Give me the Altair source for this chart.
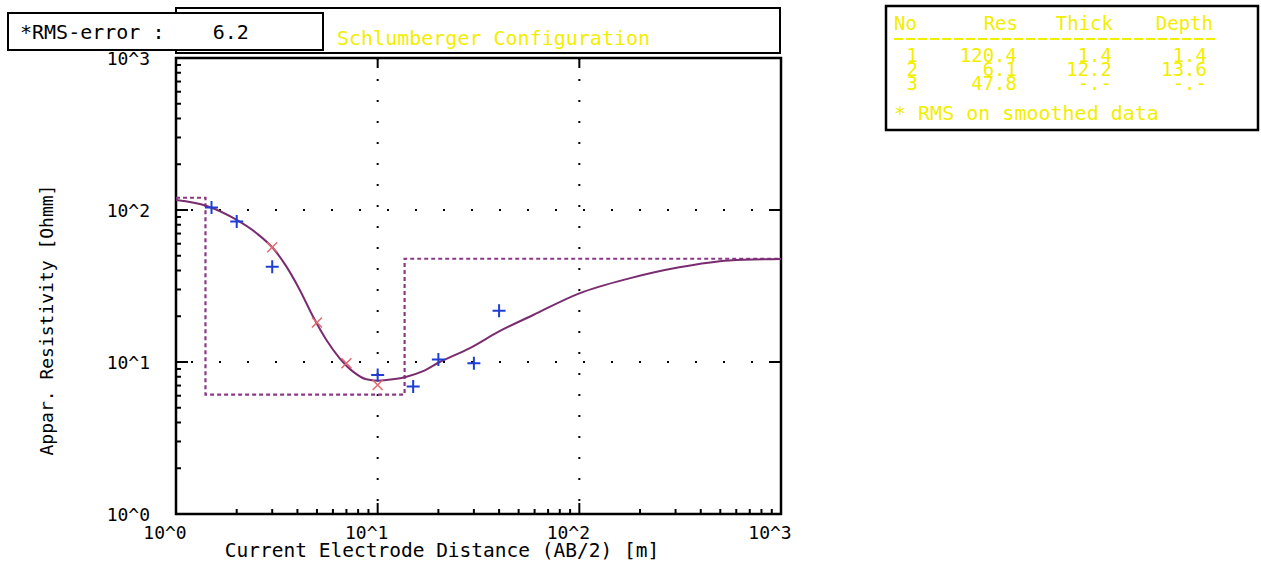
import altair as alt
import pandas as pd

# ---- sounding data (AB/2 in m, apparent resistivity in Ohm.m) ----
meas_ab2 = [1.5, 2.0, 3.0, 10.0, 15.0, 20.0, 30.0, 40.0]
meas_rho = [104.0, 84.0, 42.4, 8.2, 6.9, 10.4, 9.8, 21.7]

smooth_ab2 = [3.0, 5.0, 7.0, 10.0]
smooth_rho = [56.8, 18.2, 9.8, 7.06]

# model response curve
curve_ab2 = [1.0, 1.42, 2.0, 2.51, 3.03, 3.53, 4.11, 4.78, 5.57, 6.48, 7.55, 8.79,
             10.0, 11.9, 13.9, 16.8, 20.3, 28.5, 40.0, 58.7, 100.0, 177.0, 313.0,
             553.0, 1000.0]
curve_rho = [116.4, 106.3, 86.0, 70.3, 56.0, 42.4, 29.8, 19.9, 13.95, 10.58, 8.64, 7.69,
             7.53, 7.69, 8.0, 8.7, 10.0, 12.3, 15.9, 20.3, 28.3, 35.5, 42.0,
             46.6, 47.6]

# layered earth model
layer_no = [1, 2, 3]
layer_res = [120.4, 6.1, 47.8]
layer_thick = [1.4, 12.2, None]
layer_depth = [1.4, 13.6, None]
rms_error = 6.2

decades = [1, 10, 100, 1000]
decade_labels = ["10^0", "10^1", "10^2", "10^3"]
inner_decades = [10, 100]
minor_ticks = [m * 10 ** e for e in range(3) for m in range(2, 10)]

FONT = "DejaVu Sans Mono"
YELLOW = "#f2ee00"
CURVE = "#7a2c70"
MODEL = "#8a3a84"
BLUE = "#1e3ed6"
RED = "#e46a6e"
NB = "\u00a0"
W, H = 605, 456
X_MIN, X_MAX = 1, 1000

xs = alt.Scale(type="log", domain=[X_MIN, X_MAX])
ys = alt.Scale(type="log", domain=[1, 1000])

curve_df = pd.DataFrame({"ab2": curve_ab2, "rho": curve_rho})
meas_df = pd.DataFrame({"ab2": meas_ab2, "rho": meas_rho})
smooth_df = pd.DataFrame({"ab2": smooth_ab2, "rho": smooth_rho})
tick_df = pd.DataFrame({"v": decades, "lab": decade_labels})

# step outline of the layered model
step_pts = []
top = X_MIN
for res, depth in zip(layer_res, layer_depth):
    bottom = depth if depth is not None else X_MAX
    step_pts += [(top, res), (bottom, res)]
    top = bottom
model_df = pd.DataFrame({"i": range(len(step_pts)),
                         "ab2": [p[0] for p in step_pts],
                         "rho": [p[1] for p in step_pts]})

one = pd.DataFrame({"k": [0]})


def fmt(v):
    return "-.-" if v is None else f"{v:.1f}"


def X(field="ab2"):
    return alt.X(f"{field}:Q", scale=xs, axis=None)


def Y(field="rho"):
    return alt.Y(f"{field}:Q", scale=ys, axis=None)


# dotted grid
vgrid = alt.Chart(pd.DataFrame({"ab2": inner_decades})).mark_rule(
    color="black", strokeWidth=2, strokeDash=[2, 19]
).encode(x=X())
hgrid = alt.Chart(pd.DataFrame({"rho": inner_decades})).mark_rule(
    color="black", strokeWidth=2, strokeDash=[2, 26]
).encode(y=Y())

model = alt.Chart(model_df).mark_line(
    color=MODEL, strokeWidth=2.2, strokeDash=[4, 3]
).encode(x=X(), y=Y(), order="i:Q")

curve = alt.Chart(curve_df).mark_line(
    color=CURVE, strokeWidth=2, interpolate="monotone"
).encode(x=X(), y=Y())

smooth = alt.Chart(smooth_df).mark_point(
    shape="M-1,-1L1,1M-1,1L1,-1", size=100, filled=False,
    color=RED, strokeWidth=1.5, opacity=1
).encode(x=X(), y=Y())

meas = alt.Chart(meas_df).mark_point(
    shape="M-1,0H1M0,-1V1", size=169, filled=False,
    color=BLUE, strokeWidth=2, opacity=1
).encode(x=X(), y=Y())


# tick marks drawn inside the frame
def yticks(values, x0, x1):
    return alt.Chart(pd.DataFrame({"rho": values})).mark_rule(
        color="black", strokeWidth=2
    ).encode(y=Y(), x=alt.value(x0), x2=alt.value(x1))


def xticks(values, y0, y1):
    return alt.Chart(pd.DataFrame({"ab2": values})).mark_rule(
        color="black", strokeWidth=2
    ).encode(x=X(), y=alt.value(y0), y2=alt.value(y1))


ticks = [
    yticks(decades, 0, 12), yticks(minor_ticks, 0, 5),
    xticks(decades, H, H - 11), xticks(minor_ticks, H, H - 5),
    xticks(inner_decades, 0, 10), yticks(inner_decades, W, W - 12),
]

# decade labels on both axes
ylabels = alt.Chart(tick_df).mark_text(
    font=FONT, fontSize=18, color="black", align="right", baseline="middle", dy=2
).encode(y=Y("v"), x=alt.value(-26), text="lab:N")
xlabels = alt.Chart(tick_df).mark_text(
    font=FONT, fontSize=18, color="black", align="center", baseline="middle", dx=-11
).encode(x=X("v"), y=alt.value(H + 20), text="lab:N")


def box(x0, x1, y0, y1, sw=2):
    return alt.Chart(one).mark_rect(
        fill="white", stroke="black", strokeWidth=sw
    ).encode(x=alt.value(x0), x2=alt.value(x1), y=alt.value(y0), y2=alt.value(y1))


def label(text, x, y, color="black", align="left", baseline="middle",
          size=20, angle=0):
    return alt.Chart(one).mark_text(
        text=text, font=FONT, fontSize=size, color=color, align=align,
        baseline=baseline, angle=angle
    ).encode(x=alt.value(x), y=alt.value(y))


def column(lines, x, y, align="right"):
    return alt.Chart(pd.DataFrame({"t": ["\n".join(lines)]})).mark_text(
        font=FONT, fontSize=19, color=YELLOW, align=align, baseline="top",
        lineBreak="\n", lineHeight=14
    ).encode(x=alt.value(x), y=alt.value(y), text="t:N")


rms_text = "*RMS-error :" + NB * 4 + f"{rms_error:.1f}"

annot = [
    box(0, 604, -50, -5),
    label("Schlumberger Configuration", 161, -19, color=YELLOW),
    box(-168, 147, -45, -8),
    label(rms_text, -156, -25),
    box(710, 1082, -52, 72, sw=2.5),
    label("No", 718, -34, color=YELLOW, size=19),
    label("Res", 842, -34, color=YELLOW, align="right", size=19),
    label("Thick", 937, -34, color=YELLOW, align="right", size=19),
    label("Depth", 1037, -34, color=YELLOW, align="right", size=19),
    alt.Chart(one).mark_rule(color=YELLOW, strokeWidth=2, strokeDash=[9, 3]).encode(
        x=alt.value(718), x2=alt.value(1042), y=alt.value(-19)),
    column([str(n) for n in layer_no], 742, -11),
    column([fmt(v) for v in layer_res], 841, -11),
    column([fmt(v) for v in layer_thick], 936, -11),
    column([fmt(v) for v in layer_depth], 1031, -11),
    label("*" + NB + "RMS on smoothed data", 718, 56, color=YELLOW),
    label("Current Electrode Distance (AB/2) [m]", 266, 493, align="center", size=19.5),
    label("Appar. Resistivity [Ohmm]", -128, 262, align="center", angle=270, size=18),
]

chart = alt.layer(
    vgrid, hgrid, model, curve, smooth, meas, *ticks, ylabels, xlabels, *annot
).properties(
    width=W, height=H,
    autosize=alt.AutoSizeParams(type="none"),
    padding={"left": 176, "top": 58, "right": 480, "bottom": 48},
    background="white",
).configure_view(stroke="black", strokeWidth=2.5)

chart.save("out.html", embed_options={"renderer": "svg", "actions": False})
